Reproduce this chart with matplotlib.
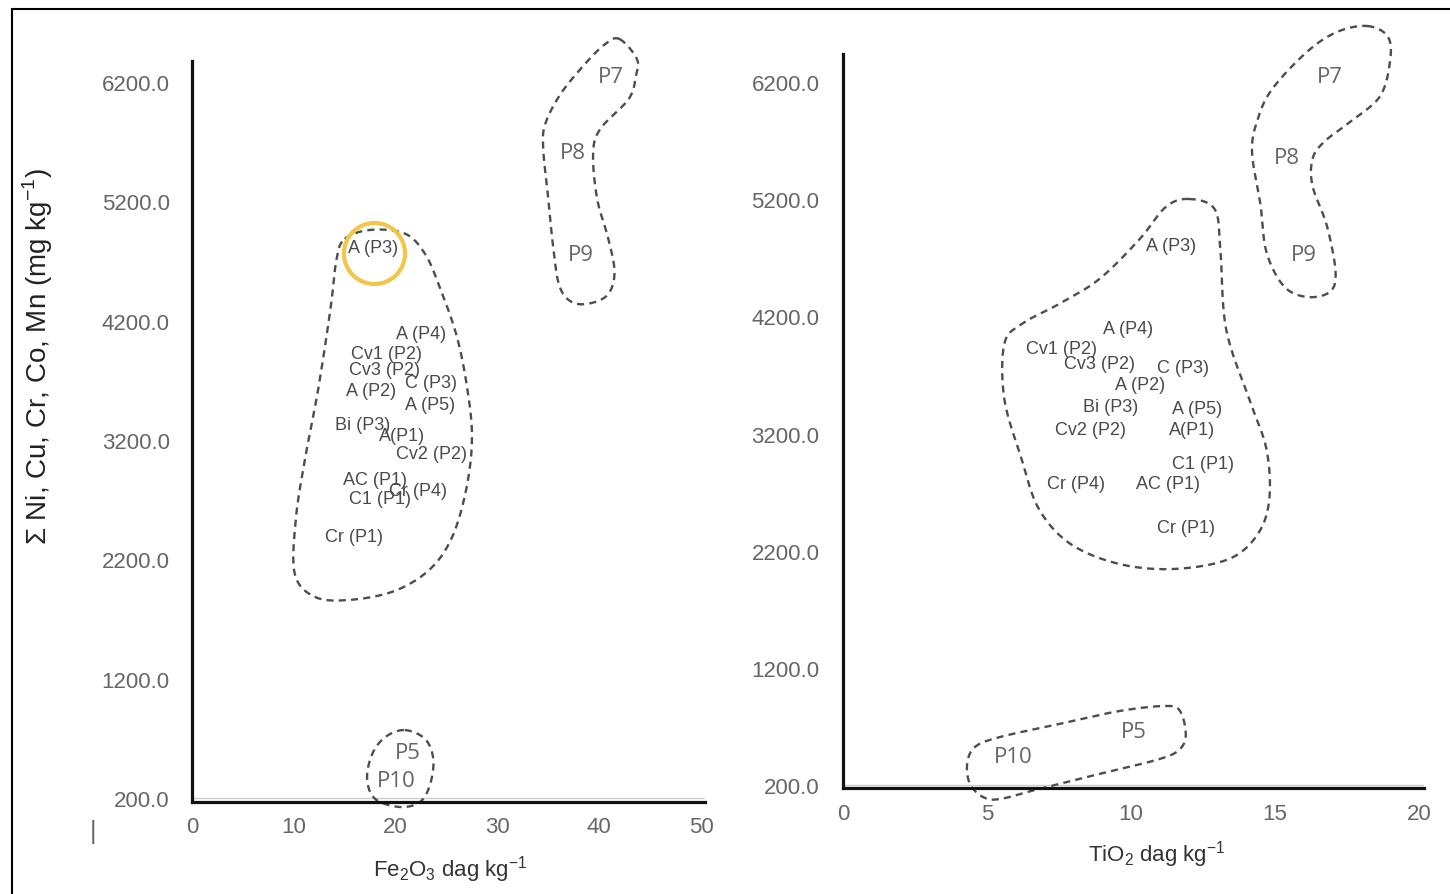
import numpy as np
import matplotlib
matplotlib.use("Agg")
import matplotlib.pyplot as plt
from matplotlib.patches import Rectangle

plt.rcParams['font.family'] = ['Liberation Sans', 'DejaVu Sans']

# sample labels (placed at their values)
labels = ['A (P3)', 'A (P4)', 'Cv1 (P2)', 'Cv3 (P2)', 'C (P3)', 'A (P2)', 'A (P5)',
          'Bi (P3)', 'A(P1)', 'Cv2 (P2)', 'AC (P1)', 'Cr (P4)', 'C1 (P1)', 'Cr (P1)']
fe2o3 = [17.8, 22.5, 19.1, 18.9, 23.5, 17.6, 23.4, 16.8, 20.6, 23.5, 18.0, 22.2, 18.5, 15.9]
sum_fe = [4810, 4096, 3928, 3794, 3685, 3610, 3501, 3333, 3233, 3082, 2864, 2772, 2713, 2394]
tio2 = [11.4, 9.9, 7.6, 8.9, 11.8, 10.3, 12.3, 9.3, 12.1, 8.6, 11.3, 8.1, 12.5, 11.9]
sum_ti = [4809, 4101, 3930, 3802, 3768, 3615, 3410, 3435, 3231, 3231, 2770, 2778, 2949, 2403]

# profile groups
groups = ['P7', 'P8', 'P9', 'P5', 'P10']
grp_fe2o3 = [41.1, 37.4, 38.2, 21.2, 20.1]
grp_sum_fe = [6242, 5605, 4758, 584, 349]
grp_tio2 = [16.9, 15.4, 16.0, 10.1, 5.9]
grp_sum_ti = [6243, 5560, 4732, 662, 449]

yticks = [200, 1200, 2200, 3200, 4200, 5200, 6200]

# hand-drawn enclosures (data units)
left_main = [(15.0, 4884), (17.5, 4960), (20.9, 4930), (22.9, 4758), (24.4, 4465), (26.0, 4071),
             (27.0, 3652), (27.5, 3233), (27.0, 2814), (25.6, 2395), (23.4, 2118), (19.9, 1934),
             (15.5, 1859), (12.1, 1883), (10.1, 2076), (10.2, 2537), (11.1, 3040), (12.4, 3627),
             (13.6, 4297), (14.2, 4716)]
left_top = [(42.0, 6560), (43.7, 6393), (43.6, 6250), (42.9, 6058), (40.1, 5806), (39.4, 5597),
            (39.8, 5219), (40.9, 4884), (41.5, 4591), (40.6, 4398), (37.9, 4339), (36.2, 4465),
            (35.5, 4800), (35.0, 5219), (34.5, 5638), (34.7, 5848), (36.2, 6099), (38.6, 6351),
            (40.6, 6519)]
left_low = [(20.9, 768), (22.9, 693), (23.7, 525), (23.4, 316), (22.4, 165), (20.4, 123),
            (18.0, 190), (17.2, 358), (17.7, 567), (19.0, 710)]
right_main = [(12.0, 5202), (12.9, 5116), (13.1, 4775), (13.3, 4092), (14.1, 3495), (14.7, 3069),
              (14.8, 2642), (14.4, 2343), (13.4, 2130), (11.5, 2045), (9.6, 2087), (7.9, 2258),
              (6.8, 2557), (6.2, 2983), (5.6, 3495), (5.6, 3965), (6.2, 4135), (7.5, 4306),
              (8.9, 4519), (10.3, 4860), (11.2, 5133)]
right_top = [(18.2, 6678), (18.9, 6592), (19.0, 6396), (18.65, 6081), (17.6, 5859), (16.7, 5689),
             (16.3, 5543), (16.3, 5313), (16.8, 4972), (17.1, 4579), (16.9, 4409), (16.1, 4366),
             (15.3, 4459), (14.7, 4749), (14.5, 5142), (14.2, 5603), (14.4, 5884), (14.9, 6140),
             (16.1, 6456), (17.15, 6627)]
right_low = [(11.2, 876), (11.7, 833), (11.9, 637), (11.7, 509), (11.0, 424), (8.9, 296),
             (6.8, 168), (5.45, 82), (4.86, 99), (4.41, 210), (4.31, 381), (4.58, 526),
             (5.45, 611), (7.5, 722), (9.6, 833)]


def smooth_closed(pts, n=16):
    p = np.asarray(pts, float)
    t = np.linspace(0, 1, n, endpoint=False)[:, None]
    segs = []
    for i in range(len(p)):
        p0, p1, p2, p3 = p[i - 1], p[i], p[(i + 1) % len(p)], p[(i + 2) % len(p)]
        segs.append(0.5 * (2 * p1 + (p2 - p0) * t + (2 * p0 - 5 * p1 + 4 * p2 - p3) * t ** 2
                           + (3 * p1 - p0 - 3 * p2 + p3) * t ** 3))
    c = np.vstack(segs)
    return np.vstack([c, c[:1]])


W, H = 1450, 895
fig = plt.figure(figsize=(W / 100, H / 100), dpi=100)

ax1 = fig.add_axes([192 / W, 1 - 803 / H, (705 - 192) / W, (803 - 62) / H])
ax2 = fig.add_axes([843 / W, 1 - 789 / H, (1424 - 843) / W, (789 - 55) / H])
ax1.set_xlim(0, 50.39)
ax1.set_ylim(165, 6376)
ax2.set_xlim(0, 20.17)
ax2.set_ylim(176, 6439)
ax1.set_xticks([0, 10, 20, 30, 40, 50])
ax2.set_xticks([0, 5, 10, 15, 20])

for ax, ypad, xpad in [(ax1, 16, 10), (ax2, 17, 11)]:
    ax.set_yticks(yticks)
    ax.set_yticklabels([f'{v:.1f}' for v in yticks])
    ax.tick_params(axis='y', length=0, pad=ypad, labelsize=16, labelcolor='#666666')
    ax.tick_params(axis='x', length=0, pad=xpad, labelsize=16, labelcolor='#666666')
    for s in ['top', 'right']:
        ax.spines[s].set_visible(False)
    for s in ['left', 'bottom']:
        ax.spines[s].set_linewidth(2.3)
        ax.spines[s].set_color('#111111')
    ax.axhline(200, color='#cccccc', lw=1, zorder=1)

dash = dict(color='#4d4d4d', lw=1.7, ls=(0, (3, 2.2)), clip_on=False)
for ax, shapes in [(ax1, [left_main, left_top, left_low]), (ax2, [right_main, right_top, right_low])]:
    for s in shapes:
        c = smooth_closed(s)
        ax.plot(c[:, 0], c[:, 1], **dash)

for ax, xs, ys, gx, gy in [(ax1, fe2o3, sum_fe, grp_fe2o3, grp_sum_fe),
                           (ax2, tio2, sum_ti, grp_tio2, grp_sum_ti)]:
    for lab, x, y in zip(labels, xs, ys):
        ax.text(x, y, lab, ha='center', va='center', fontsize=13, color='#4a4a4a')
    for lab, x, y in zip(groups, gx, gy):
        ax.text(x, y, lab, ha='center', va='center', fontsize=16, color='#666666',
                family=['Open Sans', 'DejaVu Sans'], clip_on=False)

# highlight ring around A (P3)
ax1.plot(fe2o3[0] + 0.1, sum_fe[0] - 40, 'o', ms=44, mfc='none', mec='#f2c54b', mew=3, clip_on=False)

fig.text(450 / W, 1 - 870 / H, r'Fe$_\mathregular{2}$O$_\mathregular{3}$ dag kg$^\mathregular{-1}$',
         ha='center', va='center', fontsize=16, color='#333333')
fig.text(1157 / W, 1 - 855 / H, r'TiO$_\mathregular{2}$ dag kg$^\mathregular{-1}$',
         ha='center', va='center', fontsize=16, color='#333333')
fig.text(38 / W, 1 - 357 / H, r'$\mathregular{\Sigma}$ Ni, Cu, Cr, Co, Mn (mg kg$^\mathregular{-1}$)',
         rotation=90, ha='center', va='center', fontsize=20, color='#222222')
fig.text(93 / W, 1 - 832 / H, '|', ha='center', va='center', fontsize=18, color='#666666')

fig.patches.append(Rectangle((12 / W, -0.1), 1.2, 1.1 - 10 / H, transform=fig.transFigure,
                             fill=False, ec='black', lw=1.5))

fig.savefig('out.png', dpi=100)
